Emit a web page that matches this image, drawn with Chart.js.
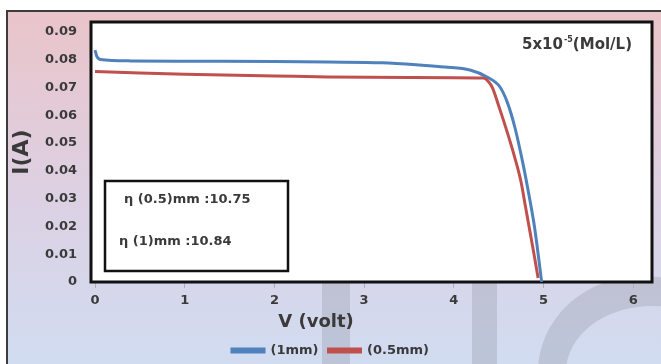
<!DOCTYPE html>
<html>
<head>
<meta charset="utf-8">
<script src="https://cdn.jsdelivr.net/npm/chart.js@4"></script>
<style>
  html, body { margin: 0; padding: 0; background: #fff; }
  #wrap { width: 661px; height: 364px; }
</style>
</head>
<body>
<div id="wrap"><canvas id="chart"></canvas></div>
<script>
// I-V curves for the two cell thicknesses
const v1mm = [0, 0.02, 0.06, 0.4, 1.0, 2.0, 2.6, 3.2, 3.62, 3.9, 4.18, 4.37, 4.515, 4.6, 4.68, 4.77, 4.84, 4.9, 4.98];
const i1mm = [0.0835, 0.0812, 0.0801, 0.0796, 0.0795, 0.0794, 0.0792, 0.0789, 0.0781, 0.0774, 0.0763, 0.0738, 0.0702, 0.0644, 0.0558, 0.0428, 0.031, 0.0198, 0.0];

const v05mm = [0, 0.5, 1.0, 2.0, 2.6, 3.5, 4.33, 4.39, 4.43, 4.51, 4.6, 4.68, 4.75, 4.8, 4.85, 4.9, 4.94];
const i05mm = [0.0758, 0.0752, 0.0748, 0.0742, 0.0738, 0.0736, 0.0734, 0.072, 0.070, 0.0625, 0.0535, 0.0448, 0.036, 0.027, 0.018, 0.009, 0.0014];

const seriesNames = ['(1mm)', '(0.5mm)'];
const xTicks = [0, 1, 2, 3, 4, 5, 6];
const yTicks = [0, 0.01, 0.02, 0.03, 0.04, 0.05, 0.06, 0.07, 0.08, 0.09];
const effLines = ['η (0.5)mm :10.75', 'η (1)mm :10.84'];

const BLUE = '#4f81bd';
const RED = '#c0504d';
const TEXT = '#3a3a3a';
const FONT = "'DejaVu Sans', sans-serif";

const toPoints = (xs, ys) => xs.map((x, i) => ({ x: x, y: ys[i] }));

// background, watermark, plot frame and the text boxes
const decor = {
  id: 'decor',
  beforeDraw(chart) {
    const { ctx, width, height, chartArea: a } = chart;
    ctx.save();
    ctx.fillStyle = '#fff';
    ctx.fillRect(0, 0, width, height);
    const g = ctx.createLinearGradient(0, 11, 0, height);
    g.addColorStop(0, '#eac4c9');
    g.addColorStop(0.5, '#ddd0e2');
    g.addColorStop(1, '#d1dcf1');
    ctx.fillStyle = g;
    ctx.fillRect(7, 11, width, height);
    ctx.strokeStyle = '#3c3c3c';
    ctx.lineWidth = 2;
    ctx.strokeRect(7, 11, width + 10, height + 10);

    // faint watermark letters
    ctx.fillStyle = 'rgba(140,145,160,0.3)';
    ctx.fillRect(322, 282, 28, 90);
    ctx.fillRect(472, 282, 25, 90);
    ctx.beginPath();
    ctx.ellipse(642, 372, 104, 96, 0, 0, Math.PI * 2);
    ctx.ellipse(652, 372, 86, 66, 0, 0, Math.PI * 2, true);
    ctx.fill('evenodd');

    ctx.fillStyle = '#fff';
    ctx.fillRect(a.left, a.top, a.right - a.left, a.bottom - a.top);
    ctx.restore();
  },
  beforeDatasetsDraw(chart) {
    const { ctx, chartArea: a } = chart;
    ctx.save();
    ctx.strokeStyle = '#111';
    ctx.lineWidth = 3;
    ctx.strokeRect(a.left, a.top, a.right - a.left, a.bottom - a.top);
    ctx.restore();
  },
  afterDraw(chart) {
    const { ctx, chartArea: a } = chart;
    ctx.save();
    // efficiency box
    const bx = a.left + 14, by = a.top + 159, bw = 183, bh = 90;
    ctx.fillStyle = '#fff';
    ctx.fillRect(bx, by, bw, bh);
    ctx.strokeStyle = '#111';
    ctx.lineWidth = 2.5;
    ctx.strokeRect(bx, by, bw, bh);
    ctx.fillStyle = TEXT;
    ctx.font = 'bold 13px ' + FONT;
    ctx.textBaseline = 'middle';
    ctx.textAlign = 'left';
    ctx.fillText(effLines[0], bx + 19, by + 19);
    ctx.fillText(effLines[1], bx + 14, by + 61);

    // concentration label
    let x = 522, y = 45;
    ctx.font = 'bold 15px ' + FONT;
    ctx.fillText('5x10', x, y);
    x += ctx.measureText('5x10').width;
    ctx.font = 'bold 8px ' + FONT;
    ctx.fillText('-5', x + 1, y - 5);
    x += ctx.measureText('-5').width + 1;
    ctx.font = 'bold 15px ' + FONT;
    ctx.fillText('(Mol/L)', x, y);

    // x axis title
    ctx.font = 'bold 18px ' + FONT;
    ctx.textAlign = 'center';
    ctx.fillText('V (volt)', 316, 322);
    ctx.restore();
  }
};

new Chart(document.getElementById('chart'), {
  type: 'line',
  data: {
    datasets: [
      {
        label: seriesNames[0],
        data: toPoints(v1mm, i1mm),
        borderColor: BLUE,
        backgroundColor: BLUE,
        borderWidth: 3,
        pointRadius: 0,
        cubicInterpolationMode: 'monotone',
        order: 1
      },
      {
        label: seriesNames[1],
        data: toPoints(v05mm, i05mm),
        borderColor: RED,
        backgroundColor: RED,
        borderWidth: 3,
        pointRadius: 0,
        cubicInterpolationMode: 'monotone',
        order: 0
      }
    ]
  },
  options: {
    responsive: true,
    maintainAspectRatio: false,
    animation: false,
    layout: { padding: { left: 9, right: 9, top: 22, bottom: -3 } },
    scales: {
      x: {
        type: 'linear',
        min: -0.045,
        max: 6.21,
        afterBuildTicks: (s) => { s.ticks = xTicks.map(v => ({ value: v })); },
        afterFit: (s) => { s.height = 52; },
        grid: { drawOnChartArea: false, drawTicks: true, tickLength: 6, color: '#b0b0b0' },
        border: { display: false },
        ticks: { color: TEXT, font: { family: FONT, size: 13, weight: 'bold' }, padding: 5, maxRotation: 0 }
      },
      y: {
        min: 0,
        max: 0.0936,
        afterBuildTicks: (s) => { s.ticks = yTicks.map(v => ({ value: v })); },
        afterFit: (s) => { s.width = 82; },
        grid: { display: false, drawTicks: false },
        border: { display: false },
        ticks: {
          color: TEXT,
          font: { family: FONT, size: 13, weight: 'bold' },
          padding: 14,
          callback: (v) => (v === 0 ? '0' : v.toFixed(2))
        },
        title: {
          display: true,
          text: 'I(A)',
          color: TEXT,
          font: { family: FONT, size: 22, weight: 'bold' },
          padding: { top: 0, bottom: 0 }
        }
      }
    },
    plugins: {
      legend: {
        position: 'bottom',
        labels: {
          boxWidth: 32,
          boxHeight: 3,
          padding: 10,
          color: TEXT,
          font: { family: FONT, size: 13, weight: 'bold' },
          sort: (a, b) => a.datasetIndex - b.datasetIndex
        }
      },
      tooltip: { enabled: false }
    }
  },
  plugins: [decor]
});
</script>
</body>
</html>
